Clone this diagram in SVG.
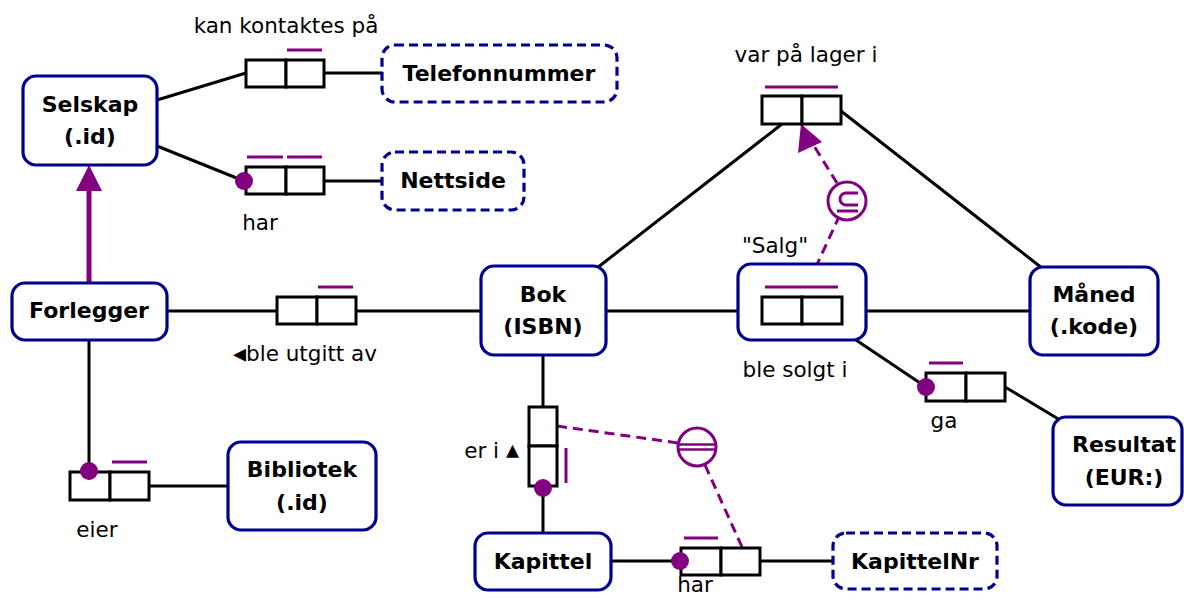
<svg xmlns="http://www.w3.org/2000/svg" width="1184" height="598" viewBox="0 0 1184 598">
<style>
.ent{fill:#fff;stroke:#00008f;stroke-width:3.2}
.val{fill:#fff;stroke:#00008f;stroke-width:3.2;stroke-dasharray:9 5}
.role{fill:#fff;stroke:#000;stroke-width:3}
.ln{stroke:#000;stroke-width:3;fill:none}
.uc{stroke:#800080;stroke-width:3;fill:none}
.dot{fill:#800080}
.dash{stroke:#800080;stroke-width:3;fill:none;stroke-dasharray:10 6}
.nm{font-family:"DejaVu Sans",Verdana,sans-serif;font-weight:bold;font-size:22px;text-anchor:middle;fill:#000}
.lb{font-family:"DejaVu Sans",Verdana,sans-serif;font-size:21.5px;text-anchor:middle;fill:#000}
.tri{font-size:26px}
</style>
<rect width="1184" height="598" fill="#fff"/>
<g id="connectors">
<line class="ln" x1="157" y1="100" x2="246" y2="73"/>
<line class="ln" x1="324" y1="73" x2="382" y2="73"/>
<line class="ln" x1="157" y1="146" x2="244" y2="181"/>
<line class="ln" x1="324" y1="181" x2="382" y2="181"/>
<line class="ln" x1="167" y1="311" x2="277" y2="311"/>
<line class="ln" x1="356" y1="311" x2="481" y2="311"/>
<line class="ln" x1="89" y1="340" x2="89" y2="471"/>
<line class="ln" x1="149" y1="486" x2="228" y2="486"/>
<line class="ln" x1="597" y1="268" x2="782" y2="124"/>
<line class="ln" x1="841" y1="111" x2="1042" y2="268"/>
<line class="ln" x1="606" y1="311" x2="762" y2="311"/>
<line class="ln" x1="842" y1="311" x2="1030" y2="311"/>
<line class="ln" x1="853" y1="338" x2="926" y2="387"/>
<line class="ln" x1="1005" y1="387" x2="1060" y2="420"/>
<line class="ln" x1="543" y1="355" x2="543" y2="407"/>
<line class="ln" x1="543" y1="488" x2="543" y2="533"/>
<line class="ln" x1="611" y1="561" x2="681" y2="561"/>
<line class="ln" x1="760" y1="561" x2="833" y2="561"/>
<line x1="89" y1="283" x2="89" y2="188" stroke="#800080" stroke-width="5"/>
<polygon points="89,165 76,191 102,191" fill="#800080"/>
<line class="dash" x1="802" y1="297" x2="838" y2="219"/>
<line class="dash" x1="837" y1="183" x2="814" y2="146"/>
<polygon points="801,124 798,153 822,142" fill="#800080"/>
<line class="dash" x1="557" y1="426" x2="678" y2="443"/>
<line class="dash" x1="705" y1="465" x2="742" y2="547"/>
</g>
<g id="Selskap"><rect class="ent" x="23" y="76" width="134" height="89" rx="13"/><text class="nm" x="90" y="112">Selskap</text><text class="nm" x="90" y="144">(.id)</text></g>
<g id="Telefonnummer"><rect class="val" x="382" y="45" width="235" height="57" rx="13"/><text class="nm" x="499" y="81">Telefonnummer</text></g>
<g id="Nettside"><rect class="val" x="382" y="152" width="142" height="58" rx="13"/><text class="nm" x="453" y="188">Nettside</text></g>
<g id="Forlegger"><rect class="ent" x="12" y="283" width="155" height="57" rx="13"/><text class="nm" x="89" y="318">Forlegger</text></g>
<g id="Bibliotek"><rect class="ent" x="228" y="442" width="148" height="88" rx="13"/><text class="nm" x="302" y="477">Bibliotek</text><text class="nm" x="302" y="510">(.id)</text></g>
<g id="Bok"><rect class="ent" x="481" y="266" width="125" height="89" rx="13"/><text class="nm" x="543" y="302">Bok</text><text class="nm" x="543" y="334">(ISBN)</text></g>
<g id="Maaned"><rect class="ent" x="1030" y="267" width="128" height="88" rx="13"/><text class="nm" x="1094" y="302">Måned</text><text class="nm" x="1094" y="334">(.kode)</text></g>
<g id="Resultat"><rect class="ent" x="1053" y="417" width="129" height="88" rx="13"/><text class="nm" x="1124" y="452">Resultat</text><text class="nm" x="1124" y="485">(EUR:)</text></g>
<g id="Kapittel"><rect class="ent" x="475" y="533" width="136" height="57" rx="13"/><text class="nm" x="543" y="569">Kapittel</text></g>
<g id="KapittelNr"><rect class="val" x="833" y="533" width="164" height="56" rx="13"/><text class="nm" x="915" y="569">KapittelNr</text></g>
<g id="Salg"><rect class="ent" x="738" y="264" width="128" height="76" rx="13"/><text class="lb" x="775" y="253">"Salg"</text></g>
<g id="fact-kontaktes"><rect class="role" x="246" y="60" width="40" height="27"/><rect class="role" x="286" y="60" width="38" height="27"/><line class="uc" x1="287" y1="50" x2="322" y2="50"/><text class="lb" x="286" y="33">kan kontaktes på</text></g>
<g id="fact-har-nettside"><rect class="role" x="246" y="167" width="40" height="27"/><rect class="role" x="286" y="167" width="38" height="27"/><line class="uc" x1="247" y1="157" x2="283" y2="157"/><line class="uc" x1="287" y1="157" x2="322" y2="157"/><circle class="dot" cx="244" cy="181" r="9"/><text class="lb" x="260" y="230">har</text></g>
<g id="fact-utgitt"><rect class="role" x="277" y="297" width="40" height="27"/><rect class="role" x="317" y="297" width="39" height="27"/><line class="uc" x1="318" y1="287" x2="353" y2="287"/><text class="lb" x="233" y="361" style="text-anchor:start"><tspan class="tri" dy="1">◂</tspan><tspan dy="-1">ble utgitt av</tspan></text></g>
<g id="fact-eier"><rect class="role" x="70" y="472" width="40" height="28"/><rect class="role" x="110" y="472" width="39" height="28"/><line class="uc" x1="112" y1="462" x2="147" y2="462"/><circle class="dot" cx="89" cy="471" r="9"/><text class="lb" x="97" y="537">eier</text></g>
<g id="fact-lager"><rect class="role" x="762" y="96" width="40" height="28"/><rect class="role" x="802" y="96" width="39" height="28"/><line class="uc" x1="765" y1="87" x2="838" y2="87"/><text class="lb" x="806" y="62">var på lager i</text></g>
<g id="fact-solgt"><rect class="role" x="762" y="297" width="40" height="27"/><rect class="role" x="802" y="297" width="40" height="27"/><line class="uc" x1="765" y1="287" x2="838" y2="287"/><text class="lb" x="795" y="377">ble solgt i</text></g>
<g id="fact-ga"><rect class="role" x="926" y="373" width="40" height="28"/><rect class="role" x="966" y="373" width="39" height="28"/><line class="uc" x1="929" y1="363" x2="963" y2="363"/><circle class="dot" cx="926" cy="387" r="9"/><text class="lb" x="944" y="428">ga</text></g>
<g id="fact-er-i"><rect class="role" x="529" y="407" width="28" height="39"/><rect class="role" x="529" y="446" width="28" height="40"/><line class="uc" x1="566" y1="448" x2="566" y2="483"/><circle class="dot" cx="543" cy="488" r="9"/><text class="lb" x="519" y="458" style="text-anchor:end">er i <tspan class="tri">▴</tspan></text></g>
<g id="fact-har-nr"><rect class="role" x="681" y="548" width="40" height="27"/><rect class="role" x="721" y="548" width="39" height="27"/><line class="uc" x1="684" y1="538" x2="718" y2="538"/><circle class="dot" cx="680" cy="561" r="9"/><text class="lb" x="695" y="592">har</text></g>
<g id="subset"><circle cx="847" cy="201" r="19" fill="#fff" stroke="#800080" stroke-width="3"/><path d="M858 193 H846 A6 6 0 0 0 846 205 H858 M837 211 H858" class="uc"/></g>
<g id="equality"><circle cx="697" cy="447" r="19" fill="#fff" stroke="#800080" stroke-width="3"/><path d="M679 444.5 H715 M679 449.5 H715" stroke="#800080" stroke-width="2.5" fill="none"/></g>
</svg>
